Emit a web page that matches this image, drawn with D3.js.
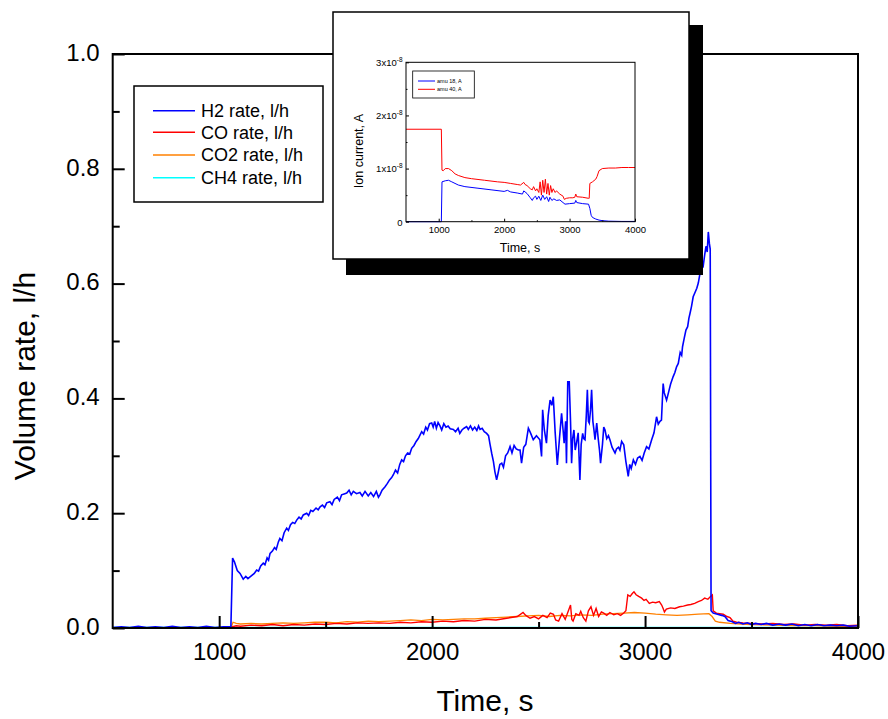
<!DOCTYPE html>
<html><head><meta charset="utf-8">
<script src="https://cdn.jsdelivr.net/npm/d3@7"></script>
<style>body{margin:0;background:#fff}text{font-family:"Liberation Sans",Arial,sans-serif}</style>
</head><body>
<svg id="c" width="888" height="719"></svg>
<script>
// ---------- main chart data (time s, volume rate l/h) ----------
const xTicksMain = [1000, 2000, 3000, 4000];
const xMinorMain = [1500, 2500, 3500];
const yTicksMain = [0.0, 0.2, 0.4, 0.6, 0.8, 1.0];
const yMinorMain = [0.1, 0.3, 0.5, 0.7, 0.9];
const seriesNames = ["H2 rate, l/h", "CO rate, l/h", "CO2 rate, l/h", "CH4 rate, l/h"];
const seriesColors = ["#0000ff", "#ff0000", "#ff8000", "#00ffff"];

const h2 = [[500,.001],[540,.002],[580,.001],[620,.003],[660,.001],[700,.002],[740,.001],[780,.003],[820,.001],[860,.002],[900,.001],[940,.003],[980,.001],[1020,.002],[1055,.002],
[1063,.122],[1072,.115],[1085,.100],[1098,.095],[1113,.085],[1125,.090],[1135,.086],[1145,.089],[1155,.092],[1165,.095],[1176,.101],[1185,.099],[1195,.108],[1207,.113],[1215,.110],[1225,.122],[1232,.118],[1239,.130],[1250,.134],[1260,.140],[1268,.137],[1278,.150],[1285,.156],[1295,.152],[1305,.166],[1317,.174],[1325,.170],[1335,.180],[1345,.184],[1355,.182],[1364,.188],[1375,.193],[1385,.190],[1395,.197],[1411,.200],[1420,.196],[1430,.205],[1440,.203],[1455,.209],[1465,.206],[1474,.211],[1485,.214],[1495,.210],[1505,.218],[1520,.220],[1530,.215],[1540,.224],[1555,.228],[1565,.222],[1575,.232],[1590,.234],[1599,.235],[1610,.240],[1620,.232],[1630,.238],[1645,.234],[1661,.236],[1672,.230],[1685,.238],[1700,.230],[1712,.236],[1725,.229],[1738,.238],[1748,.228],[1755,.232],[1765,.240],[1779,.246],[1790,.252],[1800,.258],[1810,.262],[1818,.267],[1828,.275],[1838,.270],[1848,.285],[1857,.293],[1866,.290],[1875,.300],[1885,.305],[1895,.303],[1904,.313],[1915,.318],[1925,.325],[1935,.330],[1943,.336],[1951,.342],[1960,.338],[1970,.350],[1978,.345],[1988,.356],[1998,.357],[2005,.350],[2012,.360],[2020,.348],[2028,.358],[2037,.352],[2045,.345],[2055,.356],[2065,.350],[2075,.352],[2085,.347],[2100,.346],[2110,.342],[2122,.348],[2130,.339],[2140,.345],[2150,.348],[2162,.351],[2170,.346],[2180,.352],[2190,.345],[2200,.350],[2210,.344],[2218,.352],[2225,.346],[2235,.348],[2245,.342],[2256,.339],[2265,.335],[2272,.320],[2280,.304],[2288,.290],[2295,.272],[2303,.258],[2310,.270],[2318,.285],[2327,.287],[2335,.280],[2345,.300],[2355,.305],[2366,.316],[2375,.305],[2385,.318],[2395,.312],[2405,.310],[2413,.310],[2420,.287],[2430,.315],[2440,.320],[2452,.348],[2462,.340],[2475,.328],[2490,.335],[2506,.328],[2514,.299],[2519,.380],[2527,.345],[2537,.322],[2545,.370],[2554,.397],[2562,.388],[2569,.403],[2578,.340],[2588,.284],[2598,.330],[2608,.374],[2615,.345],[2620,.322],[2627,.360],[2631,.287],[2637,.429],[2644,.429],[2650,.360],[2655,.287],[2660,.330],[2666,.345],[2672,.310],[2678,.322],[2686,.340],[2694,.258],[2700,.320],[2707,.339],[2712,.330],[2718,.328],[2724,.370],[2729,.415],[2734,.360],[2738,.357],[2744,.380],[2749,.415],[2755,.360],[2760,.345],[2765,.328],[2773,.357],[2780,.330],[2786,.310],[2791,.287],[2800,.320],[2806,.350],[2812,.345],[2820,.330],[2828,.335],[2835,.328],[2845,.315],[2852,.310],[2859,.305],[2866,.312],[2875,.315],[2882,.310],[2890,.325],[2900,.319],[2910,.290],[2921,.264],[2928,.285],[2935,.278],[2945,.293],[2955,.285],[2965,.296],[2976,.299],[2986,.292],[2996,.305],[3007,.316],[3018,.312],[3031,.328],[3042,.340],[3054,.368],[3062,.355],[3070,.360],[3077,.362],[3081,.395],[3085,.426],[3090,.410],[3101,.397],[3110,.410],[3120,.425],[3132,.438],[3140,.445],[3148,.455],[3156,.461],[3165,.480],[3172,.475],[3176,.490],[3184,.505],[3192,.519],[3200,.525],[3206,.540],[3211,.548],[3218,.560],[3226,.577],[3235,.585],[3243,.592],[3250,.601],[3258,.618],[3266,.635],[3272,.628],[3280,.650],[3286,.665],[3292,.655],[3297,.690],[3302,.670],[3306,.660],
[3310,.030],[3320,.026],[3340,.024],[3360,.022],[3375,.020],[3390,.013],[3410,.011],[3425,.008],[3440,.010],[3460,.007],[3480,.009],[3500,.006],[3520,.008],[3545,.006],[3570,.008],[3600,.005],[3630,.007],[3660,.005],[3690,.007],[3720,.004],[3750,.006],[3780,.004],[3810,.006],[3840,.004],[3870,.005],[3900,.004],[3930,.005],[3960,.003],[4000,.004]];

const co = [[500,0],[1055,0],[1060,.002],[1080,.004],[1100,.003],[1150,.005],[1200,.004],[1250,.006],[1300,.004],[1350,.006],[1400,.005],[1450,.007],[1500,.006],[1550,.008],[1600,.007],[1650,.009],[1700,.008],[1750,.009],[1800,.008],[1850,.010],[1900,.009],[1950,.011],[2000,.010],[2050,.012],[2100,.011],[2150,.013],[2200,.012],[2250,.015],[2300,.014],[2350,.017],[2400,.020],[2427,.027],[2440,.022],[2460,.017],[2480,.020],[2500,.016],[2520,.022],[2540,.018],[2555,.026],[2570,.024],[2580,.014],[2594,.012],[2610,.025],[2625,.015],[2640,.030],[2650,.040],[2656,.015],[2662,.012],[2675,.025],[2690,.022],[2698,.029],[2710,.018],[2722,.012],[2734,.030],[2746,.037],[2758,.022],[2770,.034],[2782,.020],[2795,.028],[2806,.026],[2820,.022],[2835,.027],[2853,.023],[2870,.025],[2885,.022],[2900,.026],[2910,.030],[2919,.0575],[2930,.055],[2940,.060],[2948,.063],[2958,.058],[2970,.055],[2984,.052],[2995,.048],[3005,.050],[3020,.043],[3035,.045],[3050,.044],[3067,.046],[3078,.040],[3085,.034],[3091,.028],[3100,.033],[3120,.035],[3140,.034],[3162,.037],[3180,.038],[3200,.040],[3215,.041],[3233,.043],[3250,.046],[3265,.048],[3280,.052],[3295,.050],[3305,.054],[3316,.0575],[3320,.030],[3335,.026],[3350,.025],[3367,.024],[3385,.020],[3399,.018],[3413,.012],[3430,.010],[3460,.009],[3500,.008],[3550,.007],[3600,.008],[3650,.006],[3700,.007],[3750,.005],[3800,.006],[3850,.005],[3900,.006],[3950,.004],[4000,.005]];

const co2 = [[500,0],[1055,0],[1065,.010],[1080,.008],[1100,.007],[1150,.008],[1200,.007],[1250,.008],[1300,.009],[1350,.008],[1400,.009],[1450,.010],[1500,.010],[1550,.009],[1600,.011],[1650,.010],[1700,.012],[1750,.011],[1800,.012],[1850,.013],[1900,.014],[1950,.013],[2000,.015],[2050,.014],[2100,.015],[2150,.016],[2200,.016],[2250,.017],[2300,.018],[2350,.019],[2400,.020],[2450,.021],[2500,.022],[2550,.020],[2600,.022],[2650,.021],[2700,.023],[2750,.022],[2800,.024],[2850,.025],[2900,.026],[2950,.027],[3000,.026],[3050,.024],[3100,.023],[3150,.022],[3200,.023],[3250,.024],[3300,.025],[3315,.020],[3330,.012],[3350,.010],[3400,.008],[3450,.007],[3500,.006],[3600,.005],[3700,.004],[3800,.004],[3900,.003],[4000,.003]];

const ch4 = [[500,.0005],[1000,.0005],[1500,.0005],[2000,.0005],[2500,.0005],[3000,.0005],[3500,.0005],[4000,.0005]];

// ---------- inset data (time s, ion current in units of 1e-8 A) ----------
const insetXTicks = [1000, 2000, 3000, 4000];
const insetXMinor = [1500, 2500, 3500];
const insetYTicks = [0, 1, 2, 3];
const insetYMinor = [0.5, 1.5, 2.5];
const insetNames = ["amu 18, A", "amu 40, A"];
const insetColors = ["#0000ff", "#ff0000"];

const amu18 = [[500,0],[1040,0],[1050,.75],[1100,.77],[1150,.78],[1200,.75],[1300,.69],[1400,.66],[1600,.63],[1800,.60],[2000,.57],[2050,.59],[2100,.56],[2200,.54],[2280,.52],[2300,.58],[2320,.56],[2350,.53],[2400,.45],[2430,.40],[2450,.45],[2480,.48],[2500,.42],[2530,.48],[2560,.40],[2590,.50],[2620,.42],[2650,.47],[2680,.38],[2700,.46],[2730,.40],[2760,.43],[2800,.40],[2850,.41],[2900,.36],[2930,.33],[3000,.34],[3080,.35],[3095,.40],[3110,.36],[3200,.34],[3290,.33],[3310,.25],[3330,.12],[3350,.08],[3400,.05],[3450,.03],[3500,.02],[3600,.01],[3800,.005],[4000,.005]];

const amu40 = [[500,1.74],[1040,1.74],[1050,.97],[1070,.96],[1100,1.0],[1150,1.0],[1200,.96],[1250,.90],[1300,.87],[1400,.83],[1500,.81],[1700,.78],[1900,.75],[2000,.74],[2100,.72],[2200,.70],[2250,.69],[2300,.74],[2320,.70],[2350,.68],[2400,.62],[2430,.60],[2450,.66],[2480,.58],[2500,.62],[2530,.55],[2550,.75],[2570,.50],[2590,.78],[2610,.55],[2630,.80],[2650,.52],[2670,.72],[2690,.50],[2710,.68],[2730,.55],[2750,.62],[2780,.55],[2800,.58],[2850,.52],[2900,.48],[2920,.42],[2950,.44],[3000,.45],[3050,.45],[3080,.46],[3095,.52],[3110,.47],[3200,.46],[3290,.44],[3300,.44],[3310,.72],[3350,.75],[3400,.80],[3420,.85],[3450,.96],[3500,1.0],[3600,1.01],[3700,1.01],[3800,1.02],[3900,1.02],[4000,1.02]];

// ---------- drawing ----------
const svg = d3.select("#c");
svg.append("rect").attr("width",888).attr("height",719).attr("fill","#fff");

const L = 112.7, R = 858, T = 54, B = 628;
const x = d3.scaleLinear().domain([500, 4000]).range([L, R]);
const y = d3.scaleLinear().domain([0, 1]).range([B, T]);

const g = svg.append("g");
const line = d3.line().x(d => x(d[0])).y(d => y(d[1]));
const mainSeries = [h2, co, co2, ch4];
const widths = [1.6, 1.4, 1.3, 2];
// draw CH4 first at bottom then others
[3,2,1,0].forEach(i => {
  g.append("path").datum(mainSeries[i]).attr("d", line)
    .attr("fill","none").attr("stroke", seriesColors[i]).attr("stroke-width", widths[i]);
});

// axes
const ax = svg.append("g").attr("transform",`translate(0,${B})`)
  .call(d3.axisBottom(x).tickValues(xTicksMain).tickSize(-12).tickPadding(15).tickFormat(d3.format("d")));
const axm = svg.append("g").attr("transform",`translate(0,${B})`)
  .call(d3.axisBottom(x).tickValues(xMinorMain).tickSize(-6).tickFormat(""));
const ay = svg.append("g").attr("transform",`translate(${L},0)`)
  .call(d3.axisLeft(y).tickValues(yTicksMain).tickSize(-12).tickPadding(13).tickFormat(d3.format(".1f")));
const aym = svg.append("g").attr("transform",`translate(${L},0)`)
  .call(d3.axisLeft(y).tickValues(yMinorMain).tickSize(-7).tickFormat(""));
[ax,axm,ay,aym].forEach(a => {
  a.select(".domain").remove();
  a.selectAll(".tick line").attr("stroke","#000").attr("stroke-width",2);
  a.selectAll("text").attr("font-family","Liberation Sans, Arial, sans-serif").attr("font-size",24).attr("fill","#000");
});
ay.selectAll("text").attr("dy","0.30em").attr("y",-1);

svg.append("rect").attr("x",L).attr("y",T).attr("width",R-L).attr("height",B-T)
  .attr("fill","none").attr("stroke","#000").attr("stroke-width",2);

svg.append("text").attr("x",485).attr("y",711).attr("text-anchor","middle")
  .attr("font-size",30).text("Time, s");
svg.append("text").attr("transform","translate(35,376) rotate(-90)").attr("text-anchor","middle")
  .attr("font-size",30).text("Volume rate, l/h");

// legend
const lg = svg.append("g");
lg.append("rect").attr("x",134).attr("y",86).attr("width",189).attr("height",116)
  .attr("fill","#fff").attr("stroke","#000").attr("stroke-width",1.5);
const rowsY = [110.7, 132.3, 155, 177.7];
seriesNames.forEach((n,i) => {
  lg.append("line").attr("x1",153).attr("x2",195).attr("y1",rowsY[i]).attr("y2",rowsY[i])
    .attr("stroke",seriesColors[i]).attr("stroke-width",1.5);
  lg.append("text").attr("x",201).attr("y",rowsY[i]).attr("dy","0.35em").attr("font-size",18).text(n);
});

// ---------- inset ----------
const ins = svg.append("g");
ins.append("rect").attr("x",346).attr("y",25).attr("width",357).attr("height",250).attr("fill","#000");
ins.append("rect").attr("x",333).attr("y",12).attr("width",356).attr("height",247)
  .attr("fill","#fff").attr("stroke","#000").attr("stroke-width",1.5);

const iL = 406, iR = 635, iT = 62.3, iB = 221.7;
const ix = d3.scaleLinear().domain([500,4000]).range([iL,iR]);
const iy = d3.scaleLinear().domain([0,3]).range([iB,iT]);
const iline = d3.line().x(d => ix(d[0])).y(d => iy(d[1]));
[amu40, amu18].forEach((s,k) => {
  ins.append("path").datum(s).attr("d", iline).attr("fill","none")
    .attr("stroke", k===0 ? insetColors[1] : insetColors[0]).attr("stroke-width",1);
});
const iax = ins.append("g").attr("transform",`translate(0,${iB})`)
  .call(d3.axisBottom(ix).tickValues(insetXTicks).tickSize(-3).tickPadding(5).tickFormat(d3.format("d")));
const iaxm = ins.append("g").attr("transform",`translate(0,${iB})`)
  .call(d3.axisBottom(ix).tickValues(insetXMinor).tickSize(-1.5).tickFormat(""));
const iay = ins.append("g").attr("transform",`translate(${iL},0)`)
  .call(d3.axisLeft(iy).tickValues(insetYTicks).tickSize(-3).tickPadding(3.5).tickFormat(""));
const iaym = ins.append("g").attr("transform",`translate(${iL},0)`)
  .call(d3.axisLeft(iy).tickValues(insetYMinor).tickSize(-1.5).tickFormat(""));
[iax,iaxm,iay,iaym].forEach(a => {
  a.select(".domain").remove();
  a.selectAll(".tick line").attr("stroke","#000").attr("stroke-width",1);
  a.selectAll("text").attr("font-family","Liberation Sans, Arial, sans-serif").attr("font-size",9.5).attr("fill","#000");
});
// y tick labels with superscript exponent
iay.selectAll(".tick").each(function(d){
  const t = d3.select(this).append("text").attr("x",-3.5).attr("dy","0.35em")
    .attr("text-anchor","end").attr("font-size",9.5).attr("fill","#000")
    .attr("font-family","Liberation Sans, Arial, sans-serif");
  if (d === 0) { t.text("0"); }
  else {
    t.append("tspan").text(d + "x10");
    t.append("tspan").attr("font-size",6.5).attr("dy","-4").text("-8");
  }
});
ins.append("rect").attr("x",iL).attr("y",iT).attr("width",iR-iL).attr("height",iB-iT)
  .attr("fill","none").attr("stroke","#000").attr("stroke-width",1);
ins.append("text").attr("x",520).attr("y",252).attr("text-anchor","middle").attr("font-size",12.5).text("Time, s");
ins.append("text").attr("transform","translate(363,151) rotate(-90)").attr("text-anchor","middle")
  .attr("font-size",12.5).text("Ion current, A");
ins.append("rect").attr("x",412.7).attr("y",71).attr("width",61.6).attr("height",27)
  .attr("fill","#fff").attr("stroke","#000").attr("stroke-width",0.8);
[81, 89.3].forEach((ry,i) => {
  ins.append("line").attr("x1",418).attr("x2",435).attr("y1",ry).attr("y2",ry)
    .attr("stroke",insetColors[i]).attr("stroke-width",1);
  ins.append("text").attr("x",437).attr("y",ry).attr("dy","0.35em").attr("font-size",5.5).text(insetNames[i]);
});
</script>
</body></html>
